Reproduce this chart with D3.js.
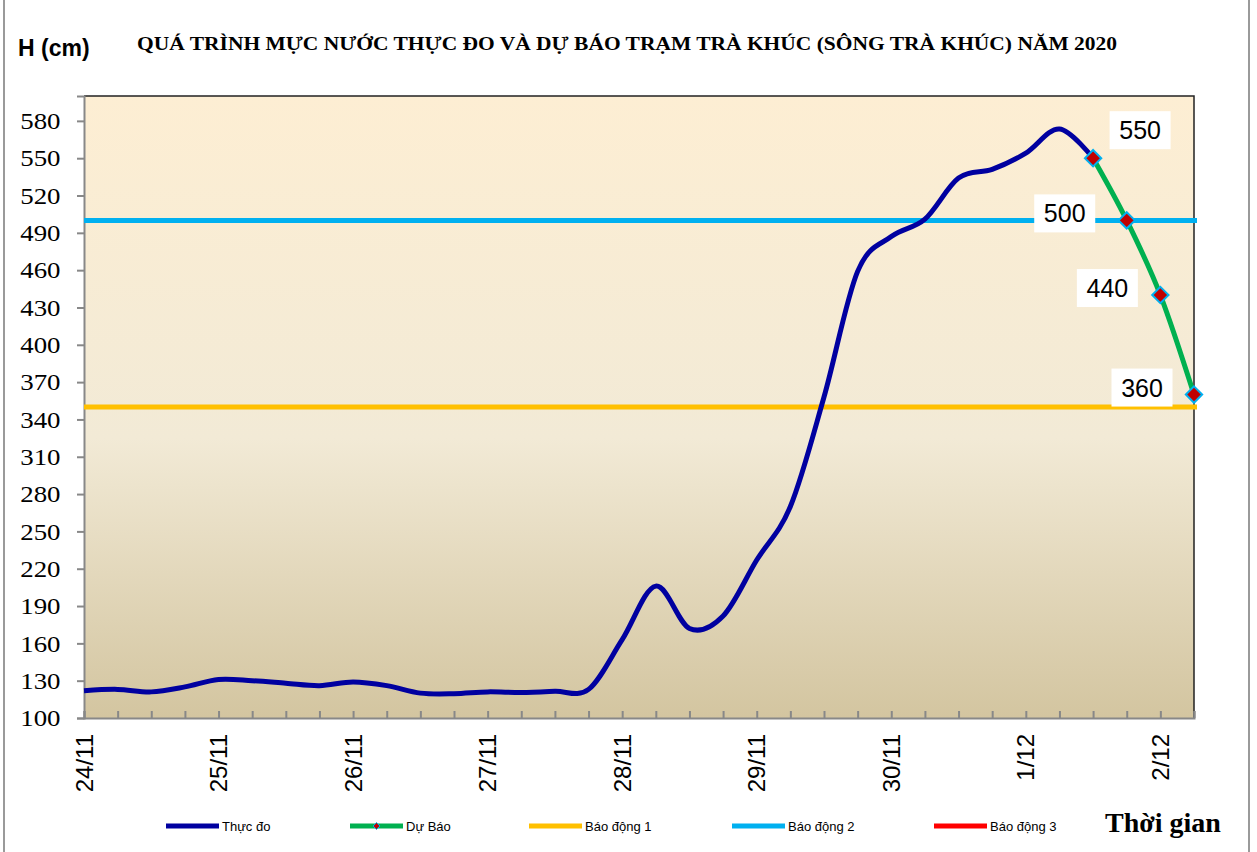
<!DOCTYPE html>
<html>
<head>
<meta charset="utf-8">
<script src="https://cdn.jsdelivr.net/npm/d3@7"></script>
<style>
  body { margin: 0; background: #fff; }
  svg { display: block; }
</style>
</head>
<body>
<script>
// water level at Trà Khúc station, read every 6 hours from 24/11 00h
const startTime = new Date(2020, 10, 24, 0)
const endTime = new Date(2020, 11, 2, 6)

const observed = [122, 123, 121, 125, 131, 130, 128, 126, 129, 126,
                  120, 119.5, 121, 120.5, 121.5, 123, 163, 206, 172, 182,
                  227, 270, 358, 459, 487, 501, 534, 541, 554, 573.5, 550]
const forecast = [550, 500, 440, 360]
const forecastStart = 30 // index (in 6h steps) where forecast begins

const alarms = [
    {name: 'Báo động 1', level: 350, color: '#FFC000'},
    {name: 'Báo động 2', level: 500, color: '#00B0F0'},
    {name: 'Báo động 3', level: 600, color: '#FF0000'},
]
const yTicks = d3.range(100, 581, 30)

const title = 'QUÁ TRÌNH MỰC NƯỚC THỰC ĐO VÀ DỰ BÁO TRẠM TRÀ KHÚC (SÔNG TRÀ KHÚC) NĂM  2020'

const stepTime = i => d3.timeHour.offset(startTime, i * 6)
const obsData = observed.map((v, i) => ({t: stepTime(i), v}))
const fcData = forecast.map((v, i) => ({t: stepTime(forecastStart + i), v}))

const W = 1257, H = 852
const margin = {left: 84, top: 96, right: 63, bottom: 134}
const width = W - margin.left - margin.right
const height = H - margin.top - margin.bottom

const svg = d3.select('body').append('svg')
    .attr('width', W).attr('height', H)

// outer frame of the chart object
svg.append('rect')
    .attr('x', 4).attr('y', -4).attr('width', 1245).attr('height', H + 10)
    .attr('fill', 'none').attr('stroke', '#9a9a9a').attr('stroke-width', 2)

const defs = svg.append('defs')
const grad = defs.append('linearGradient').attr('id', 'bg')
    .attr('x1', 0).attr('y1', 0).attr('x2', 0).attr('y2', 1)
grad.append('stop').attr('offset', '0%').attr('stop-color', '#FDEED3')
grad.append('stop').attr('offset', '55%').attr('stop-color', '#F2EAD6')
grad.append('stop').attr('offset', '100%').attr('stop-color', '#D3C5A0')

const x = d3.scaleTime().domain([startTime, endTime]).range([0, width])
const y = d3.scaleLinear().domain([100, 600]).range([height, 0])

const canvas = svg.append('g')
    .attr('transform', `translate(${margin.left}, ${margin.top})`)

canvas.append('rect')
    .attr('width', width).attr('height', height)
    .attr('fill', 'url(#bg)')

// top and right border of plot area
canvas.append('path')
    .attr('d', `M0,0H${width}V${height}`)
    .attr('fill', 'none').attr('stroke', '#222').attr('stroke-width', 1.5)

// y axis
const yAxis = canvas.append('g')
    .call(d3.axisLeft(y).tickValues(yTicks).tickSize(7).tickPadding(14))
yAxis.select('.domain').attr('stroke', '#888').attr('stroke-width', 2)
yAxis.selectAll('.tick line').attr('stroke', '#888').attr('stroke-width', 2)
yAxis.selectAll('text')
    .attr('font-family', '"Liberation Serif", "Times New Roman", serif')
    .attr('font-size', 24).attr('fill', '#000')
    .attr('transform', 'scale(1.12,1)')

// x axis: ticks every 6 hours pointing up, labels at midnight
const xAxis = canvas.append('g')
    .attr('transform', `translate(0, ${height})`)
    .call(d3.axisBottom(x).ticks(d3.timeHour.every(6)).tickSize(-7).tickFormat(''))
xAxis.select('.domain').attr('stroke', '#888').attr('stroke-width', 2)
xAxis.selectAll('.tick line').attr('stroke', '#888').attr('stroke-width', 2)

const days = d3.timeDay.range(startTime, endTime)
canvas.selectAll('.day-label')
    .data(days)
    .join('text')
    .attr('class', 'day-label')
    .attr('transform', d => `translate(${x(d)}, ${height + 16}) rotate(-90)`)
    .attr('text-anchor', 'end')
    .attr('dy', '0.36em')
    .attr('font-family', '"Liberation Sans", Arial, sans-serif')
    .attr('font-size', 24)
    .text(d => d3.timeFormat('%-d/%-m')(d))

// alarm lines (only those inside the axis range)
canvas.selectAll('.alarm')
    .data(alarms.filter(a => a.level < y.domain()[1]))
    .join('line')
    .attr('class', 'alarm')
    .attr('x1', 0).attr('x2', width + 3)
    .attr('y1', d => y(d.level)).attr('y2', d => y(d.level))
    .attr('stroke', d => d.color).attr('stroke-width', 5)

const line = d3.line()
    .x(d => x(d.t)).y(d => y(d.v))
    .curve(d3.curveCatmullRom.alpha(0))

canvas.append('path')
    .datum(obsData)
    .attr('d', line)
    .attr('fill', 'none').attr('stroke', '#0000A0').attr('stroke-width', 5)
    .attr('stroke-linejoin', 'round')

canvas.append('path')
    .datum(fcData)
    .attr('d', line)
    .attr('fill', 'none').attr('stroke', '#00B050').attr('stroke-width', 5)

const diamond = d3.symbol().type(d3.symbolDiamond2).size(170)
canvas.selectAll('.fc-point')
    .data(fcData)
    .join('path')
    .attr('class', 'fc-point')
    .attr('transform', d => `translate(${x(d.t)}, ${y(d.v)})`)
    .attr('d', diamond)
    .attr('fill', '#C00000').attr('stroke', '#00B0F0').attr('stroke-width', 2)

// value labels on white boxes
const labelOffsets = [[47, -28], [-62, -7], [-53, -7], [-52, -7]]
const labels = canvas.selectAll('.fc-label')
    .data(fcData)
    .join('g')
    .attr('class', 'fc-label')
    .attr('transform', (d, i) => `translate(${x(d.t) + labelOffsets[i][0]}, ${y(d.v) + labelOffsets[i][1]})`)
labels.append('rect')
    .attr('x', -30.5).attr('y', -19).attr('width', 61).attr('height', 38)
    .attr('fill', '#fff')
labels.append('text')
    .attr('text-anchor', 'middle').attr('dy', '0.36em')
    .attr('font-family', '"Liberation Sans", Arial, sans-serif')
    .attr('font-size', 25)
    .text(d => d.v)

// titles
svg.append('text')
    .attr('x', 18).attr('y', 56)
    .attr('font-family', '"Liberation Sans", Arial, sans-serif')
    .attr('font-weight', 'bold').attr('font-size', 23)
    .text('H (cm)')

svg.append('text')
    .attr('x', 137).attr('y', 50)
    .attr('font-family', '"Liberation Serif", "Times New Roman", serif')
    .attr('font-weight', 'bold').attr('font-size', 19)
    .attr('textLength', 980).attr('lengthAdjust', 'spacingAndGlyphs')
    .text(title)

svg.append('text')
    .attr('x', 1105).attr('y', 832)
    .attr('font-family', '"Liberation Serif", "Times New Roman", serif')
    .attr('font-weight', 'bold').attr('font-size', 28)
    .text('Thời gian')

// legend
const legendItems = [
    {name: 'Thực đo', color: '#0000A0'},
    {name: 'Dự Báo', color: '#00B050', marker: true},
    ...alarms.map(a => ({name: a.name, color: a.color})),
]
const legendX = [166, 350, 529, 732, 934]
const legend = svg.selectAll('.legend-item')
    .data(legendItems)
    .join('g')
    .attr('class', 'legend-item')
    .attr('transform', (d, i) => `translate(${legendX[i]}, 826)`)
legend.append('line')
    .attr('x1', 0).attr('x2', 53)
    .attr('stroke', d => d.color).attr('stroke-width', 5)
legend.filter(d => d.marker).append('path')
    .attr('transform', 'translate(26.5,0)')
    .attr('d', d3.symbol().type(d3.symbolDiamond2).size(30))
    .attr('fill', '#C00000').attr('stroke', '#00B0F0').attr('stroke-width', 1)
legend.append('text')
    .attr('x', 56).attr('dy', '0.36em')
    .attr('font-family', '"Liberation Sans", Arial, sans-serif')
    .attr('font-size', 13)
    .text(d => d.name)
</script>
</body>
</html>
